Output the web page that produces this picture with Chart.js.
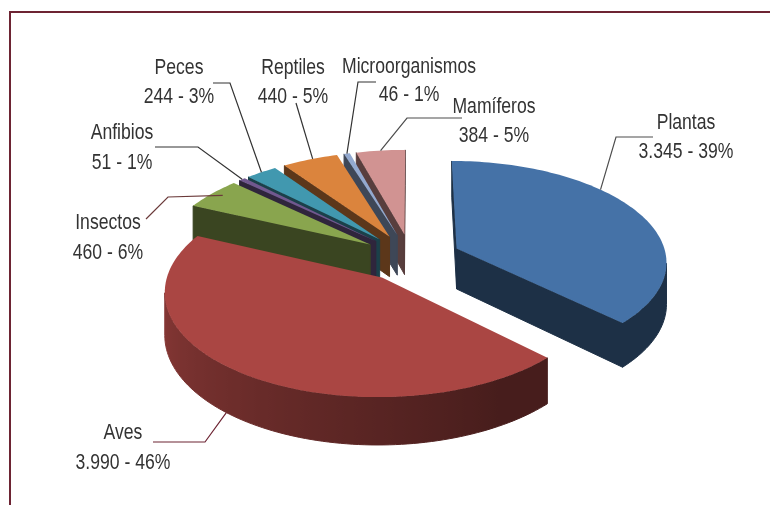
<!DOCTYPE html>
<html>
<head>
<meta charset="utf-8">
<title>Especies</title>
<script src="https://cdn.jsdelivr.net/npm/chart.js@4"></script>
<style>
  body { margin: 0; background: #fff; }
  #frame { position: absolute; left: 9px; top: 11px; width: 770px; height: 505px; border-top: 2px solid #6d2433; border-left: 2px solid #6d2433; }
  #wrap { position: absolute; left: 0; top: 0; width: 770px; height: 505px; overflow: hidden; }
</style>
</head>
<body>
<div id="wrap">
  <div id="frame"></div>
  <canvas id="pie3d" width="770" height="505" style="position:absolute;left:0;top:0"></canvas>
</div>
<script>
var categories = ['Plantas', 'Aves', 'Insectos', 'Anfibios', 'Peces', 'Reptiles', 'Microorganismos', 'Mamíferos'];
var values = [3345, 3990, 460, 51, 244, 440, 46, 384];
var percents = [39, 46, 6, 1, 3, 5, 1, 5];
var colors = ['#4572a7', '#aa4643', '#89a54e', '#71588f', '#4198af', '#db843d', '#93a9cf', '#d19392'];

// where each callout sits: text centre, elbow points, and how far along the slice's rim the line lands
var callouts = [
    { x: 686, y: 123, lh: 29, path: [[616, 137], [653, 137]], frac: 0.37, color: '#4d4d4d' },
    { x: 123, y: 433, lh: 30, path: [[205, 442], [153, 442]], frac: 0.534, bottom: true, color: '#6d2433' },
    { x: 108, y: 223, lh: 30, path: [[168, 197], [146, 219]], frac: 0.55, radial: 0.94, color: '#6b3a3a' },
    { x: 122, y: 133, lh: 30, path: [[198, 147], [155, 147]], frac: 0.5, color: '#333333' },
    { x: 179, y: 68, lh: 29, path: [[230, 83], [213, 83]], frac: 0.5, color: '#333333' },
    { x: 293, y: 68, lh: 29, path: [[296, 103]], frac: 0.55, color: '#333333' },
    { x: 409, y: 67, lh: 28, path: [[358, 82], [376, 82]], frac: 0.5, color: '#333333' },
    { x: 494, y: 107, lh: 29, path: [[407, 118], [462, 118]], frac: 0.5, color: '#4d4d4d' }
];

// pie lying on its back: perspective and thickness
var tilt = 0.476;
var persp = 0.12;
var depth = 41;
var wallShade = 0.42;
var textSquash = 0.8;

function project(arc, wx, wy, down) {
    var s = 1 / (1 + persp * wy);
    return {
        x: arc.x + arc.outerRadius * wx * s,
        y: arc.y - arc.outerRadius * tilt * wy * s + (down ? depth * s : 0)
    };
}

// world position of a rim point, angle measured clockwise from the top
function rimPoint(arc, a, radial) {
    var mid = (arc.startAngle + arc.endAngle) / 2 + Math.PI / 2;
    var e = arc.options.offset / arc.outerRadius;
    var r = radial === undefined ? 1 : radial;
    return { wx: e * Math.sin(mid) + r * Math.sin(a), wy: e * Math.cos(mid) + r * Math.cos(a), mid: mid, e: e };
}

function darker(hex, f) {
    var n = parseInt(hex.slice(1), 16);
    var r = Math.round((n >> 16 & 255) * f);
    var g = Math.round((n >> 8 & 255) * f);
    var b = Math.round((n & 255) * f);
    return 'rgb(' + r + ',' + g + ',' + b + ')';
}

// rim gets lighter as it turns towards the left
function rimShade(a) {
    var deg = a * 180 / Math.PI;
    if (deg <= 150) return wallShade;
    return Math.min(0.85, wallShade + 0.43 * (deg - 150) / 130);
}

function slicePoints(arc) {
    var a0 = arc.startAngle + Math.PI / 2;
    var a1 = arc.endAngle + Math.PI / 2;
    var n = Math.max(2, Math.ceil((a1 - a0) * 40));
    var first = rimPoint(arc, a0);
    var pts = [{ wx: first.e * Math.sin(first.mid), wy: first.e * Math.cos(first.mid), a: null }];
    for (var i = 0; i <= n; i++) {
        var a = a0 + (a1 - a0) * i / n;
        var p = rimPoint(arc, a);
        pts.push({ wx: p.wx, wy: p.wy, a: a });
    }
    return pts;
}

function wallPath(ctx, arc, run) {
    ctx.beginPath();
    run.forEach(function (p, i) {
        var s = project(arc, p.wx, p.wy);
        if (i === 0) ctx.moveTo(s.x, s.y); else ctx.lineTo(s.x, s.y);
    });
    for (var j = run.length - 1; j >= 0; j--) {
        var b = project(arc, run[j].wx, run[j].wy, true);
        ctx.lineTo(b.x, b.y);
    }
    ctx.closePath();
}

function drawSlice(ctx, arc) {
    var pts = slicePoints(arc);
    var color = arc.options.backgroundColor;
    var rim = [];
    // walls: a segment shows only when it runs leftward on screen
    for (var i = 0; i < pts.length; i++) {
        var p = pts[i], q = pts[(i + 1) % pts.length];
        var a = project(arc, p.wx, p.wy), b = project(arc, q.wx, q.wy);
        if (b.x >= a.x) continue;
        if (p.a !== null && q.a !== null) {
            if (!rim.length) rim.push(p);
            rim.push(q);
            continue;
        }
        // flat cut faces next to the centre
        ctx.fillStyle = darker(color, wallShade);
        ctx.strokeStyle = ctx.fillStyle;
        ctx.lineWidth = 1;
        wallPath(ctx, arc, [p, q]);
        ctx.fill();
        ctx.stroke();
    }
    if (rim.length > 1) {
        // one path with a sideways gradient, so the curved wall has no seams
        var x0 = project(arc, rim[0].wx, rim[0].wy).x;
        var x1 = project(arc, rim[rim.length - 1].wx, rim[rim.length - 1].wy).x;
        var grad = ctx.createLinearGradient(x0, 0, x1, 0);
        rim.forEach(function (r) {
            var t = x1 === x0 ? 0 : (project(arc, r.wx, r.wy).x - x0) / (x1 - x0);
            grad.addColorStop(Math.min(1, Math.max(0, t)), darker(color, rimShade(r.a)));
        });
        ctx.fillStyle = grad;
        ctx.strokeStyle = grad;
        ctx.lineWidth = 1;
        wallPath(ctx, arc, rim);
        ctx.fill();
        ctx.stroke();
    }
    ctx.fillStyle = color;
    ctx.beginPath();
    pts.forEach(function (p, i) {
        var s = project(arc, p.wx, p.wy);
        if (i === 0) ctx.moveTo(s.x, s.y); else ctx.lineTo(s.x, s.y);
    });
    ctx.closePath();
    ctx.fill();
}

function drawLabel(ctx, text, x, y) {
    ctx.save();
    ctx.translate(x, y);
    ctx.scale(textSquash, 1);
    ctx.fillText(text, 0, 0);
    ctx.restore();
}

var pie3d = {
    id: 'pie3d',
    beforeDatasetDraw: function (chart, args) {
        var ctx = chart.ctx;
        var arcs = args.meta.data;
        ctx.save();
        // far slices first, the big front ones last
        for (var i = arcs.length - 1; i >= 0; i--) drawSlice(ctx, arcs[i]);
        ctx.restore();
        return false;
    },
    afterDraw: function (chart) {
        var ctx = chart.ctx;
        var arcs = chart.getDatasetMeta(0).data;
        ctx.save();
        callouts.forEach(function (c, i) {
            var arc = arcs[i];
            var a0 = arc.startAngle + Math.PI / 2, a1 = arc.endAngle + Math.PI / 2;
            var r = rimPoint(arc, a0 + (a1 - a0) * c.frac, c.radial);
            var s = project(arc, r.wx, r.wy, c.bottom);
            ctx.strokeStyle = c.color;
            ctx.lineWidth = 1.2;
            ctx.beginPath();
            ctx.moveTo(s.x, s.y);
            c.path.forEach(function (p) { ctx.lineTo(p[0], p[1]); });
            ctx.stroke();
            ctx.fillStyle = '#333333';
            ctx.font = '22px "Liberation Sans", sans-serif';
            ctx.textAlign = 'center';
            ctx.textBaseline = 'middle';
            var amount = values[i] >= 1000 ? String(values[i]).replace(/(\d)(\d{3})$/, '$1.$2') : String(values[i]);
            drawLabel(ctx, categories[i], c.x, c.y);
            drawLabel(ctx, amount + ' - ' + percents[i] + '%', c.x, c.y + c.lh);
        });
        ctx.restore();
    }
};

new Chart(document.getElementById('pie3d').getContext('2d'), {
    type: 'pie',
    data: {
        labels: categories,
        datasets: [{
            data: values,
            backgroundColor: colors,
            offset: 50
        }]
    },
    options: {
        responsive: false,
        animation: false,
        radius: 210,
        layout: { padding: { left: 52, top: 10 } },
        plugins: { legend: { display: false }, tooltip: { enabled: false } }
    },
    plugins: [pie3d]
});
</script>
</body>
</html>
